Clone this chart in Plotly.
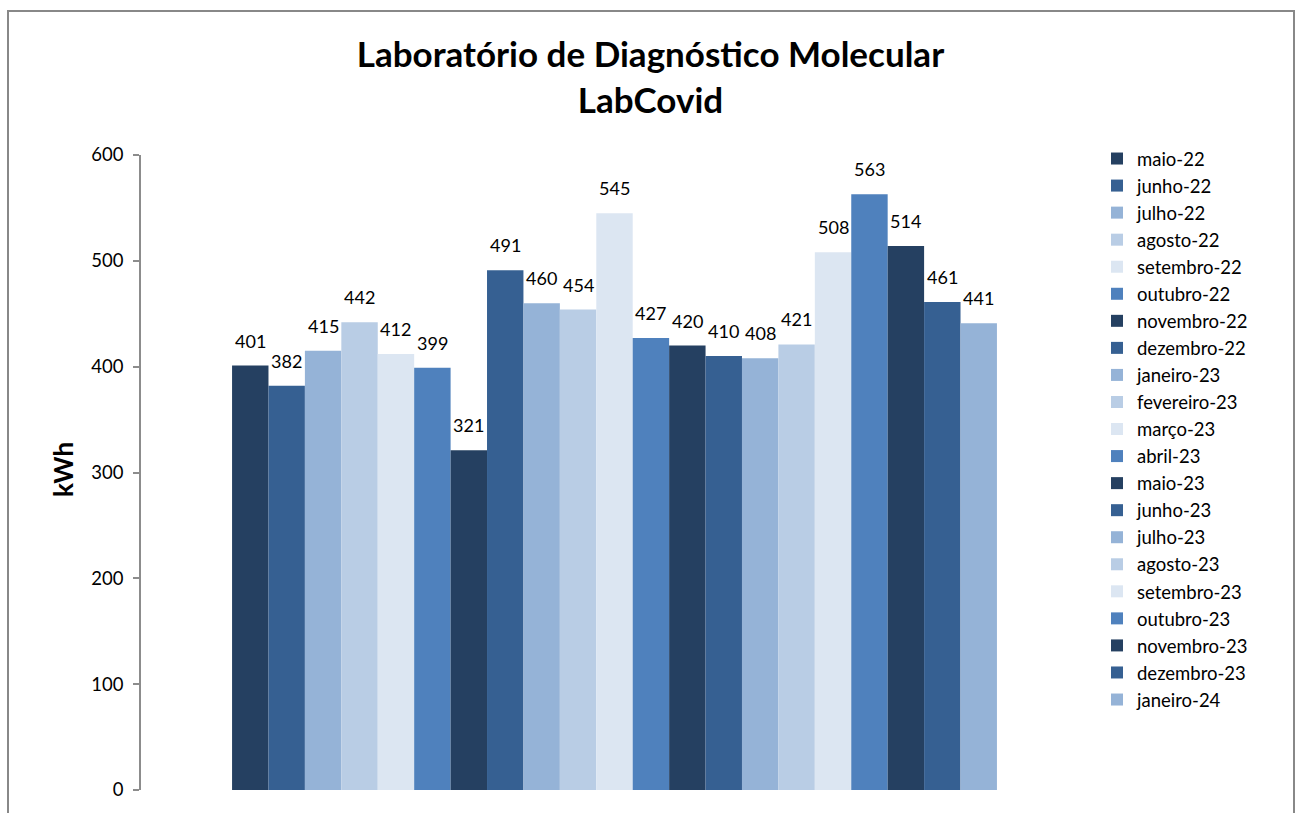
import plotly.graph_objects as go

months = ["maio-22", "junho-22", "julho-22", "agosto-22", "setembro-22", "outubro-22",
          "novembro-22", "dezembro-22", "janeiro-23", "fevereiro-23", "março-23", "abril-23",
          "maio-23", "junho-23", "julho-23", "agosto-23", "setembro-23", "outubro-23",
          "novembro-23", "dezembro-23", "janeiro-24"]
values = [401, 382, 415, 442, 412, 399, 321, 491, 460, 454, 545, 427,
          420, 410, 408, 421, 508, 563, 514, 461, 441]
palette = ["#254061", "#366092", "#95B3D7", "#B9CDE5", "#DCE6F2", "#4F81BD"]
y_ticks = [0, 100, 200, 300, 400, 500, 600]

W, H = 1301, 813
L, R, T, B = 141, 1088, 155, 790
FONT = "Lato, 'Open Sans', sans-serif"

fig = go.Figure()
for i, (m, v) in enumerate(zip(months, values)):
    fig.add_trace(go.Bar(
        x=[i], y=[v], name=m, width=1,
        marker=dict(color=palette[i % len(palette)], line=dict(width=0)),
    ))
    fig.add_annotation(x=i, y=v, xref="x", yref="y", text=str(v), showarrow=False,
                       yanchor="bottom", yshift=12,
                       font=dict(size=18, family=FONT, color="#000"))

pw, ph = R - L, B - T
def px(x):
    return (x - L) / pw
def py(y):
    return (B - y) / ph

fig.update_layout(
    width=W, height=H,
    margin=dict(l=L, r=W - R, t=T, b=H - B, pad=0),
    paper_bgcolor="white", plot_bgcolor="white",
    barmode="overlay",
    font=dict(family=FONT, color="#000"),
    title=dict(text="<b>Laboratório de Diagnóstico Molecular<br>LabCovid</b>",
               x=0.5, xref="container", xanchor="center",
               y=1 - 67 / H, yref="container", yanchor="top",
               font=dict(size=35, family=FONT, color="#000")),
    xaxis=dict(range=[-3, 23], showticklabels=False, showline=False, showgrid=False,
               zeroline=False, ticks="", fixedrange=True),
    yaxis=dict(range=[0, 600], tickvals=y_ticks, showgrid=False, zeroline=False,
               showline=True, linecolor="#8c8c8c", linewidth=1.5,
               ticks="outside", ticklen=6, tickcolor="#8c8c8c", tickwidth=1.5,
               tickfont=dict(size=18.5, family=FONT, color="#000"), ticklabelstandoff=6),
    legend=dict(x=px(1097), y=py(140), xanchor="left", yanchor="top",
                font=dict(size=18.5, family=FONT, color="#000"),
                itemwidth=30, tracegroupgap=0, bgcolor="rgba(0,0,0,0)",
                maxheight=760),
    showlegend=True,
)

fig.add_annotation(text="<b>kWh</b>", x=px(63), y=py(470), xref="paper", yref="paper",
                   xanchor="center", yanchor="middle",
                   showarrow=False, textangle=-90, font=dict(size=26, family=FONT, color="#000"))

fig.add_shape(type="rect", xref="paper", yref="paper",
              x0=px(8), x1=px(1294), y0=py(830), y1=py(11),
              line=dict(color="#888888", width=2), fillcolor="rgba(0,0,0,0)", layer="below")

fig.write_html("out.html", config={"displayModeBar": False},
               post_script="document.body.style.margin='0';document.body.style.overflow='hidden';")
